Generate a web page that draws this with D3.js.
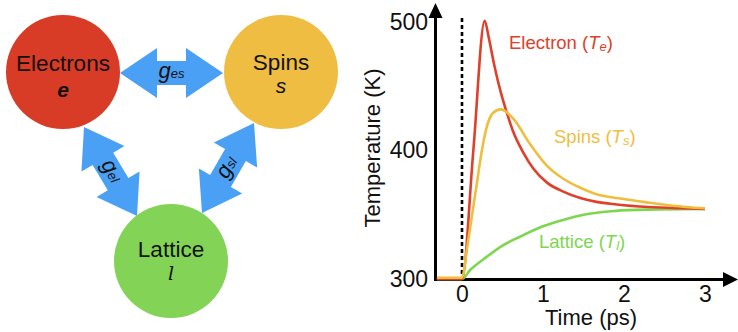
<!DOCTYPE html>
<html>
<head>
<meta charset="utf-8">
<script src="https://cdn.jsdelivr.net/npm/d3@7"></script>
<style>
  html, body { margin: 0; padding: 0; background: #fff; }
  svg { display: block; }
</style>
</head>
<body>
<svg id="fig" width="738" height="332" font-family="'Liberation Sans', Arial, Helvetica, sans-serif"></svg>
<script>
// ---- data ----
var nodeNames = ["Electrons", "Spins", "Lattice"];
var nodeSymbols = ["e", "s", "l"];
var nodeColors = ["#d83b26", "#efbd42", "#83d456"];

var couplings = [
  {from: 0, to: 1, g: "g", sub: "es"},
  {from: 0, to: 2, g: "g", sub: "el"},
  {from: 1, to: 2, g: "g", sub: "sl"}
];

var xTicks = [0, 1, 2, 3];
var yTicks = [300, 400, 500];

var electronT = [-0.31, 0, 0.14, 0.28, 0.33, 0.40, 0.48, 0.55, 0.63, 0.76, 0.88, 1.05, 1.25, 1.46, 1.66, 1.91, 2.3, 2.7, 3.0];
var electronV = [300, 300, 400, 501, 488, 466, 445, 430, 415, 398, 386, 375, 368, 363, 360, 358, 356, 355, 354.5];

var spinT = [-0.31, 0, 0.06, 0.12, 0.18, 0.24, 0.30, 0.38, 0.48, 0.63, 0.84, 1.05, 1.25, 1.46, 1.66, 1.91, 2.24, 2.6, 3.0];
var spinV = [301, 301, 323, 348, 373, 398, 417, 429, 432, 425, 405, 388, 378, 371, 366, 363, 360, 357, 355];

var latticeT = [-0.31, 0, 0.1, 0.3, 0.5, 0.72, 1.0, 1.25, 1.5, 1.9, 2.3, 3.0];
var latticeV = [300, 300, 307, 317, 326, 333, 341, 346, 350, 353, 354, 354.5];

var seriesNames = ["Electron", "Spins", "Lattice"];
var seriesSubs = ["e", "s", "l"];
var lineColors = ["#e0402a", "#f0be3e", "#7dd64e"];

var sansFont = "'Liberation Sans', Arial, Helvetica, sans-serif";
var svg = d3.select("#fig");

// ---- left: three-temperature diagram ----
function diagram(g) {
  var pos = [[63, 72], [281, 72], [171, 261]],
      r = 57,
      arrowColor = "#4aa0f5";

  // arrow tips, picked by hand per link
  var tips = [
    [[120, 73], [223, 73]],
    [[84, 127], [137, 216]],
    [[202, 213], [254, 123]]
  ];

  function dblArrow(L) {
    var hl = 37, hw = 25, sw = 12;
    return d3.line()([[0, 0], [hl, -hw], [hl, -sw], [L - hl, -sw], [L - hl, -hw], [L, 0],
                      [L - hl, hw], [L - hl, sw], [hl, sw], [hl, hw]]) + "Z";
  }

  var links = g.selectAll("g.link").data(couplings).enter()
    .append("g").classed("link", true)
    .attr("transform", function(d, i) {
      var a = tips[i][0], b = tips[i][1];
      var ang = Math.atan2(b[1] - a[1], b[0] - a[0]) * 180 / Math.PI;
      return "translate(" + a[0] + "," + a[1] + ") rotate(" + ang + ")";
    });

  links.append("path")
    .attr("d", function(d, i) {
      var a = tips[i][0], b = tips[i][1];
      return dblArrow(Math.hypot(b[0] - a[0], b[1] - a[1]));
    })
    .attr("fill", arrowColor);

  var lab = links.append("text")
    .attr("x", function(d, i) {
      var a = tips[i][0], b = tips[i][1];
      return Math.hypot(b[0] - a[0], b[1] - a[1]) / 2;
    })
    .attr("y", 5)
    .attr("text-anchor", "middle")
    .attr("font-family", sansFont)
    .attr("font-style", "italic")
    .attr("fill", "#111");
  lab.append("tspan").attr("font-size", 22).text(function(d) { return d.g; });
  lab.append("tspan").attr("font-size", 13).text(function(d) { return d.sub; });

  var nodes = g.selectAll("g.node").data(nodeNames).enter()
    .append("g").classed("node", true)
    .attr("transform", function(d, i) { return "translate(" + pos[i][0] + "," + pos[i][1] + ")"; });

  nodes.append("circle")
    .attr("r", r)
    .attr("fill", function(d, i) { return nodeColors[i]; });

  nodes.append("text")
    .attr("text-anchor", "middle")
    .attr("y", function(d, i) { return i == 0 ? -1 : (i == 1 ? -2 : -4); })
    .attr("font-family", sansFont)
    .attr("font-size", 22.5)
    .attr("fill", "#111")
    .text(function(d) { return d; });

  nodes.append("text")
    .attr("text-anchor", "middle")
    .attr("y", function(d, i) { return i == 1 ? 21 : (i == 2 ? 19 : 25); })
    .attr("font-size", function(d, i) { return i == 2 ? 19 : 21; })
    .attr("font-style", "italic")
    .attr("font-weight", function(d, i) { return i == 0 ? "bold" : null; })
    .attr("font-family", function(d, i) { return i == 2 ? "'DejaVu Serif', serif" : sansFont; })
    .attr("fill", "#111")
    .text(function(d, i) { return nodeSymbols[i]; });
}

diagram(svg.append("g").classed("diagram", true));

// ---- right: temperature vs time ----
function tempChart(g) {
  var x = d3.scaleLinear().domain([0, 3]).range([462, 705]),
      y = d3.scaleLinear().domain([300, 500]).range([279, 22]),
      axisX = 435.5, axisY = 279.5;

  var xAxis = d3.axisBottom(x).tickValues(xTicks).tickSize(0).tickPadding(6).tickFormat(d3.format("d"));
  var yAxis = d3.axisLeft(y).tickValues(yTicks).tickSize(0).tickPadding(7);

  g.append("g")
    .attr("transform", "translate(0," + axisY + ")")
    .call(xAxis)
    .attr("font-family", sansFont).attr("font-size", 23)
    .call(function(s) { s.select(".domain").remove(); })
    .selectAll("text").attr("fill", "#111");

  g.append("g")
    .attr("transform", "translate(" + (axisX - 0.5) + ",0)")
    .call(yAxis)
    .attr("font-family", sansFont).attr("font-size", 23)
    .call(function(s) { s.select(".domain").remove(); })
    .selectAll("text").attr("fill", "#111");

  // axis lines with arrow heads
  g.append("line").attr("x1", axisX).attr("x2", axisX).attr("y1", axisY + 1.5).attr("y2", 16)
    .attr("stroke", "#000").attr("stroke-width", 3);
  g.append("path").attr("d", d3.line()([[axisX, 3], [axisX - 7, 18], [axisX + 7, 18]]) + "Z").attr("fill", "#000");
  g.append("line").attr("x1", axisX - 1.5).attr("x2", 725).attr("y1", axisY).attr("y2", axisY)
    .attr("stroke", "#000").attr("stroke-width", 3);
  g.append("path").attr("d", d3.line()([[738, axisY], [723, axisY - 7.5], [723, axisY + 7.5]]) + "Z").attr("fill", "#000");

  // pump at t = 0
  g.append("line")
    .attr("x1", x(0)).attr("x2", x(0)).attr("y1", 18).attr("y2", axisY)
    .attr("stroke", "#000").attr("stroke-width", 2.6).attr("stroke-dasharray", "4,3");

  var line = d3.line()
    .x(function(d) { return x(d[0]); })
    .y(function(d) { return y(d[1]); })
    .curve(d3.curveMonotoneX);

  var series = [
    d3.zip(electronT, electronV),
    d3.zip(spinT, spinV),
    d3.zip(latticeT, latticeV)
  ];
  var order = [2, 0, 1];

  g.selectAll("path.temp").data(order).enter()
    .append("path").classed("temp", true)
    .attr("d", function(i) { return line(series[i]); })
    .attr("fill", "none")
    .attr("stroke", function(i) { return lineColors[i]; })
    .attr("stroke-width", 2.6);

  // curve labels
  var labPos = [[509, 49], [554, 143], [539, 248]];
  var lab = g.selectAll("text.serieslab").data(seriesNames).enter()
    .append("text").classed("serieslab", true)
    .attr("x", function(d, i) { return labPos[i][0]; })
    .attr("y", function(d, i) { return labPos[i][1]; })
    .attr("font-family", sansFont)
    .attr("font-size", 18.5)
    .attr("fill", function(d, i) { return lineColors[i]; });
  lab.append("tspan").text(function(d) { return d + " ("; });
  lab.append("tspan").attr("font-style", "italic").text("T");
  lab.append("tspan").attr("font-style", "italic").attr("font-size", 13).attr("dy", 2)
    .text(function(d, i) { return seriesSubs[i]; });
  lab.append("tspan").attr("dy", -2).text(")");

  // axis titles
  g.append("text")
    .attr("transform", "translate(380,148) rotate(-90)")
    .attr("text-anchor", "middle")
    .attr("font-family", sansFont)
    .attr("font-size", 22)
    .attr("fill", "#111")
    .text("Temperature (K)");

  g.append("text")
    .attr("x", 591).attr("y", 325)
    .attr("text-anchor", "middle")
    .attr("font-family", sansFont)
    .attr("font-size", 22)
    .attr("fill", "#111")
    .text("Time (ps)");
}

tempChart(svg.append("g").classed("chart", true));
</script>
</body>
</html>
